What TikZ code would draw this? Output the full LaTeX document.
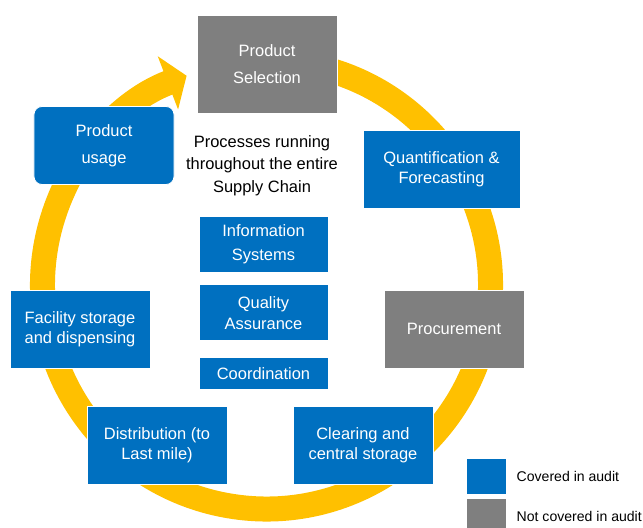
\documentclass[tikz,border=0pt]{standalone}
\usepackage{fontspec}
\setmainfont{Liberation Sans}
\usetikzlibrary{arrows.meta,positioning}
\definecolor{auditblue}{HTML}{0070C0}
\definecolor{auditgray}{HTML}{7F7F7F}
\definecolor{ringyellow}{HTML}{FFC000}

\begin{document}
\begin{tikzpicture}[x=0.025cm,y=0.025cm,
  box/.style={rectangle,draw=white,line width=0.6pt,text=white,align=center,
    font=\fontsize{11.7}{14}\selectfont,minimum width=3.5cm,minimum height=1.95cm,inner sep=2pt},
  covered/.style={box,fill=auditblue},
  notcovered/.style={box,fill=auditgray},
  inner/.style={covered,minimum width=3.225cm,minimum height=1.4cm},
  key/.style={rectangle,draw=white,line width=0.6pt,minimum width=1cm,minimum height=0.9cm,inner sep=0pt},
  keytext/.style={font=\fontsize{10}{12}\selectfont,inner sep=0pt}]
  \useasboundingbox (0,0) rectangle (643,527);
  \clip (0,0) rectangle (643,527);
  % ring
  \draw[ringyellow,line width=0.625cm,-{Triangle[width=1.4cm,length=0.5cm]}]
    (266.5,242) ++(80:224) arc[start angle=80,end angle=-249.1,radius=224];
  % supply chain steps
  \node[notcovered,minimum height=2.45cm] (sel) at (267,463) {Product\\[0.2cm]Selection};
  \node[covered,rounded corners=0.2cm] (use) at (104,381.5) {Product\\[0.18cm]usage};
  \node[covered,minimum width=3.925cm] (quant) at (441.5,358) {Quantification \&\\Forecasting};
  \node[notcovered] (proc) at (454,198) {Procurement};
  \node[covered] (clear) at (363,81.5) {Clearing and\\central storage};
  \node[covered] (dist) at (157,81.5) {Distribution (to\\Last mile)};
  \node[covered] (fac) at (80,198) {Facility storage\\and dispensing};
  % processes in the middle
  \node[align=center,font=\fontsize{11.7}{16}\selectfont] (note) at (262,361.5)
    {Processes running\\throughout the entire\\Supply Chain};
  \node[inner] (info) at (263.5,283) {Information\\[0.1cm]Systems};
  \node[inner,below=0.3cm of info] (qa) {Quality\\[0.04cm]Assurance};
  \node[inner,minimum height=0.8cm,below=0.4cm of qa] (coord) {Coordination};
  % legend
  \node[key,fill=auditblue] (keyb) at (486,51) {};
  \node[key,fill=auditgray,below=0.1cm of keyb] (keyg) {};
  \node[keytext,right=0.25cm of keyb] (keybt) {Covered in audit};
  \node[keytext,right=0.25cm of keyg] (keygt) {Not covered in audit};
\end{tikzpicture}
\end{document}
